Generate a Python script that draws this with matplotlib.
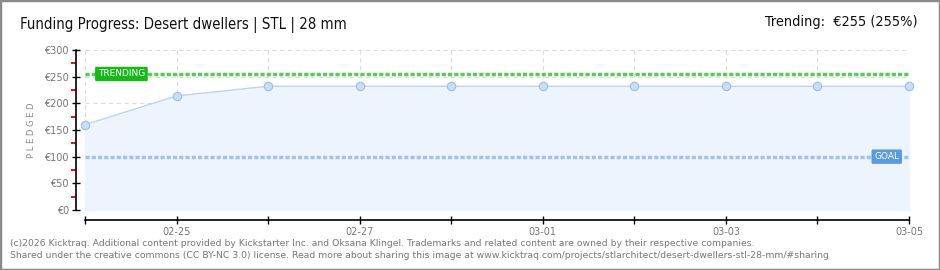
import matplotlib.pyplot as plt
from matplotlib.patches import Rectangle

dates = ["02-24", "02-25", "02-26", "02-27", "02-28", "03-01", "03-02", "03-03", "03-04", "03-05"]
pledged = [160, 214, 232, 232, 232, 232, 232, 232, 232, 232]
goal = 100
trending = 255
yticks = [0, 50, 100, 150, 200, 250, 300]

W, H = 940, 270
fig = plt.figure(figsize=(W / 100, H / 100), dpi=100)
fig.patch.set_facecolor("white")
fig.patches.append(Rectangle((0, 0), 1, 1, transform=fig.transFigure, fill=False,
                             edgecolor="#8a8a8a", linewidth=2.5))

ax = fig.add_axes([85 / W, (H - 210) / H, (909 - 85) / W, 160 / H])
x = list(range(len(dates)))
ax.set_xlim(0, len(dates) - 1)
ax.set_ylim(0, 300)

ax.fill_between(x, pledged, 0, color="#edf4fd", zorder=1)
ax.plot(x, pledged, color="#bcd6f2", linewidth=1, zorder=3)
ax.plot(x, pledged, "o", markersize=6, markerfacecolor="#c9def5", markeredgecolor="#9dbde4",
        markeredgewidth=0.8, zorder=4, clip_on=False)

# grid
for v in yticks:
    ax.axhline(v, color="#dcdcdc", linewidth=0.8, linestyle=(0, (4, 3)), zorder=0)
for i in x:
    ax.axvline(i, color="#dcdcdc", linewidth=0.8, linestyle=(0, (4, 3)), zorder=0)

# trending and goal lines
ax.axhline(trending, color="#55cc55", linewidth=2.5, linestyle=(0, (1.2, 0.6)), zorder=2)
ax.axhline(goal, color="#a3c3e6", linewidth=2.5, linestyle=(0, (1.2, 0.6)), zorder=2)
ax.text(0.14, trending, "TRENDING", color="white", fontsize=6.5, va="center", ha="left",
        zorder=5, bbox=dict(boxstyle="round,pad=0.3,rounding_size=0.15", fc="#17b817", ec="none"))
ax.text(8.62, goal, "GOAL", color="white", fontsize=6.5, va="center", ha="left",
        zorder=5, bbox=dict(boxstyle="round,pad=0.3,rounding_size=0.15", fc="#5a9ae0", ec="none"))

# spines
for s in ["top", "right"]:
    ax.spines[s].set_visible(False)
ax.spines["left"].set_position(("outward", 6.5))
ax.spines["bottom"].set_position(("outward", 7.2))
ax.spines["left"].set_linewidth(1.2)
ax.spines["bottom"].set_linewidth(1.2)

ax.set_yticks(yticks)
ax.set_yticklabels(["€%d" % v for v in yticks])
ax.set_yticks([25, 75, 125, 175, 225, 275], minor=True)
ax.tick_params(axis="y", which="major", direction="inout", length=6, width=1, colors="black",
               labelcolor="#777777", labelsize=7, pad=2)
ax.tick_params(axis="y", which="minor", direction="out", length=3.5, width=1.3, color="#e00000")

ax.set_xticks(x)
ax.set_xticklabels([d if i % 2 == 1 else "" for i, d in enumerate(dates)])
ax.tick_params(axis="x", direction="inout", length=6, width=1, colors="black",
               labelcolor="#777777", labelsize=7, pad=2)

fig.text(32 / W, 1 - 130 / H, "P L E D G E D", rotation=90, color="#888888", fontsize=6,
         ha="center", va="center")

fig.text(20 / W, 1 - 25 / H, "Funding Progress: Desert dwellers | STL | 28 mm", fontsize=10.7,
         color="#111111", ha="left", va="center", fontstretch="condensed")
fig.text(918 / W, 1 - 22 / H, "Trending:  €255 (255%)", fontsize=10.4, color="#111111",
         ha="right", va="center", fontstretch="condensed")

foot1 = ("(c)2026 Kicktraq. Additional content provided by Kickstarter Inc. and Oksana Klingel. "
         "Trademarks and related content are owned by their respective companies.")
foot2 = ("Shared under the creative commons (CC BY-NC 3.0) license. Read more about sharing this "
         "image at www.kicktraq.com/projects/stlarchitect/desert-dwellers-stl-28-mm/#sharing")
fig.text(10 / W, 1 - 243 / H, foot1, fontsize=6.7, color="#777777", ha="left", va="center")
fig.text(10 / W, 1 - 255 / H, foot2, fontsize=6.7, color="#777777", ha="left", va="center")

fig.savefig("out.png", dpi=100)
